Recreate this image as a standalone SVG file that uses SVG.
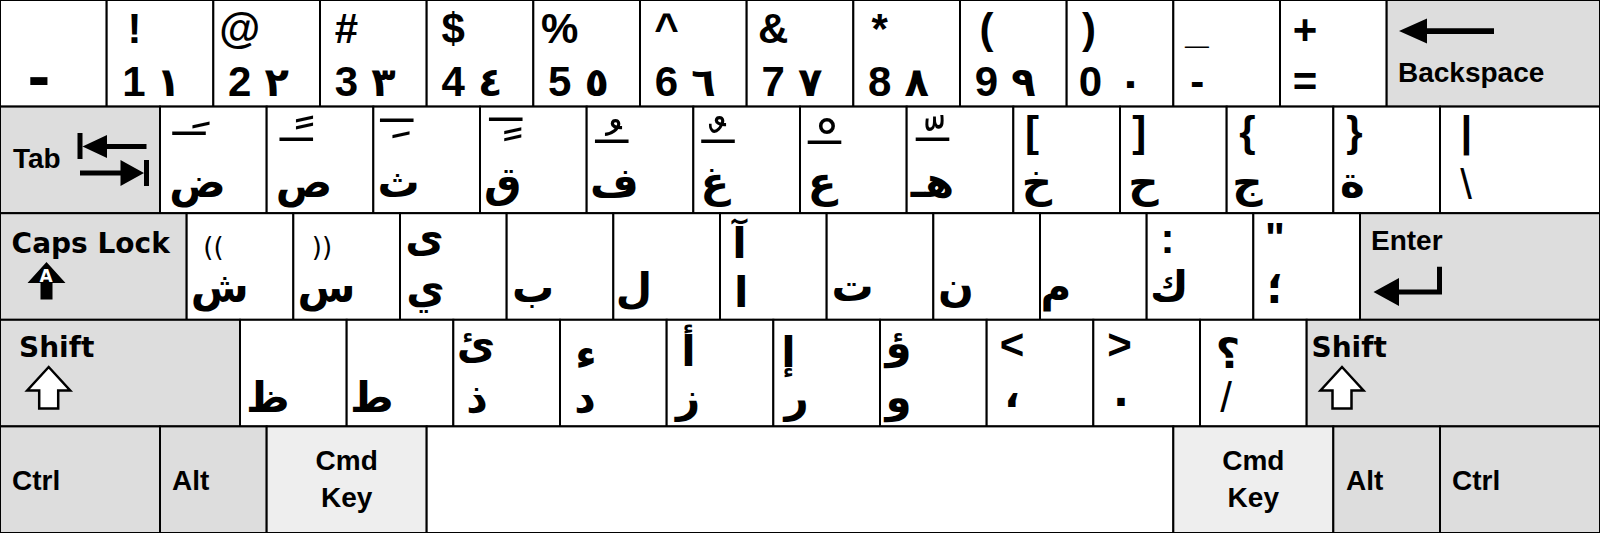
<svg xmlns="http://www.w3.org/2000/svg" width="1600" height="533" viewBox="0 0 1600 533">
<style>
.k{stroke:#000;stroke-width:2}
.w{fill:#fff}.g{fill:#ddd}.c{fill:#eee}
.l{font-family:"Liberation Sans",Arial,sans-serif;font-weight:bold;font-size:42px;text-anchor:middle;fill:#000}
.t{font-family:"Liberation Sans",Arial,sans-serif;font-weight:normal;font-size:42px;text-anchor:middle;fill:#000}
.m{font-family:"Liberation Sans",Arial,sans-serif;font-weight:bold;font-size:28px;fill:#000}
.ct{text-anchor:middle}
.d{font-family:"DejaVu Sans",sans-serif;font-weight:bold;font-size:28px;fill:#000}
.a{font-family:"DejaVu Sans",sans-serif;font-weight:bold;font-size:42px;text-anchor:middle;fill:#000}
.n{font-family:"DejaVu Sans",sans-serif;font-weight:bold;font-size:40px;text-anchor:middle;fill:#000}
.tw{font-family:"DejaVu Sans",sans-serif;font-weight:normal;font-size:40px;text-anchor:middle;fill:#000}
.mk{font-family:"DejaVu Sans",sans-serif;font-weight:normal;font-size:60px;text-anchor:end;fill:#000}
.p{font-family:"DejaVu Sans",sans-serif;font-weight:normal;font-size:26px;text-anchor:middle;fill:#000}
.ico{fill:#000}
.sh{fill:#fff;stroke:#000;stroke-width:2.5;stroke-linejoin:miter}
</style>
<defs>
<path id="shiftArrow" d="M0,0 L-21.5,23.5 L-9.5,23.5 L-9.5,41.5 L9.5,41.5 L9.5,23.5 L21.5,23.5 Z"/>
</defs>
<rect x="0" y="0" width="1600" height="533" fill="#fff"/>

<!-- Row 1 -->
<g id="key-dash"><rect class="k w" x="0" y="0" width="106.67" height="106.6"/><text x="38.8" y="97" style="font-family:'DejaVu Sans',sans-serif;font-weight:bold;font-size:56px;text-anchor:middle;fill:#000">-</text></g>
<g id="key-1"><rect class="k w" x="106.67" y="0" width="106.67" height="106.6"/><text class="l" x="134.5" y="43">!</text><text class="l" x="134" y="96">1</text><text class="n" x="168.5" y="96">١</text></g>
<g id="key-2"><rect class="k w" x="213.33" y="0" width="106.67" height="106.6"/><text class="l" x="239.8" y="43">@</text><text class="l" x="239.8" y="96">2</text><text class="n" x="276.8" y="96">٢</text></g>
<g id="key-3"><rect class="k w" x="320" y="0" width="106.67" height="106.6"/><text class="l" x="346.5" y="43">#</text><text class="l" x="346.5" y="96">3</text><text class="n" x="383.5" y="96">٣</text></g>
<g id="key-4"><rect class="k w" x="426.67" y="0" width="106.67" height="106.6"/><text class="l" x="453.2" y="43">$</text><text class="l" x="453.2" y="96">4</text><text class="n" x="490.2" y="96">٤</text></g>
<g id="key-5"><rect class="k w" x="533.33" y="0" width="106.67" height="106.6"/><text class="l" x="559.8" y="43">%</text><text class="l" x="559.8" y="96">5</text><text class="n" x="596.8" y="96">٥</text></g>
<g id="key-6"><rect class="k w" x="640" y="0" width="106.67" height="106.6"/><text class="l" x="666.5" y="43">^</text><text class="l" x="666.5" y="96">6</text><text class="n" x="703.5" y="96">٦</text></g>
<g id="key-7"><rect class="k w" x="746.67" y="0" width="106.67" height="106.6"/><text class="l" x="773.2" y="43">&amp;</text><text class="l" x="773.2" y="96">7</text><text class="n" x="810.2" y="96">٧</text></g>
<g id="key-8"><rect class="k w" x="853.33" y="0" width="106.67" height="106.6"/><text class="l" x="879.8" y="43">*</text><text class="l" x="879.8" y="96">8</text><text class="n" x="916.8" y="96">٨</text></g>
<g id="key-9"><rect class="k w" x="960" y="0" width="106.67" height="106.6"/><text class="l" x="986.5" y="43">(</text><text class="l" x="986.5" y="96">9</text><text class="n" x="1023.5" y="96">٩</text></g>
<g id="key-0"><rect class="k w" x="1066.67" y="0" width="106.67" height="106.6"/><text class="l" x="1089" y="42.5">)</text><text class="l" x="1090.5" y="96">0</text><text class="n" x="1130.5" y="96">٠</text></g>
<g id="key-minus"><rect class="k w" x="1173.33" y="0" width="106.67" height="106.6"/><text class="l" x="1197" y="43">_</text><text class="l" x="1197.3" y="96">-</text></g>
<g id="key-equal"><rect class="k w" x="1280" y="0" width="106.67" height="106.6"/><text class="l" x="1305" y="44">+</text><text class="l" x="1305" y="96">=</text></g>
<g id="key-backspace"><rect class="k g" x="1386.67" y="0" width="213.33" height="106.6"/><path class="ico" d="M1399,31 L1427,18.5 L1427,28.3 L1494,28.3 L1494,34 L1427,34 L1427,43.5 Z"/><text class="m" x="1398" y="82">Backspace</text></g>

<!-- Row 2 -->
<g id="key-tab"><rect class="k g" x="0" y="106.6" width="160" height="106.6"/><text class="m" x="13" y="168">Tab</text>
<path class="ico" d="M77.5,133 h5 v26 h-5 Z M82.5,146.5 L107,135 L107,144 L146.5,144 L146.5,149 L107,149 L107,158 Z"/>
<path class="ico" d="M80,170.5 L120.5,170.5 L120.5,160 L144,173 L120.5,186 L120.5,175.5 L80,175.5 Z M144,160 h5 v26 h-5 Z"/></g>
<g id="key-dad"><rect class="k w" x="160" y="106.6" width="106.67" height="106.6"/><text class="tw" x="189" y="134.6" textLength="31.5" lengthAdjust="spacingAndGlyphs">ـ</text><text class="mk" x="205" y="164">&#160;َ</text><text class="a" x="197.5" y="197">ض</text></g>
<g id="key-sad"><rect class="k w" x="266.67" y="106.6" width="106.67" height="106.6"/><text class="tw" x="296.2" y="141.3" textLength="31.5" lengthAdjust="spacingAndGlyphs">ـ</text><text class="mk" x="308.7" y="165.3">&#160;ً</text><text class="a" x="304" y="197">ص</text></g>
<g id="key-theh"><rect class="k w" x="373.33" y="106.6" width="106.67" height="106.6"/><text class="tw" x="396.8" y="122.3" textLength="31.5" lengthAdjust="spacingAndGlyphs">ـ</text><text class="mk" x="405" y="129.8">&#160;ِ</text><text class="a" x="398.5" y="197">ث</text></g>
<g id="key-qaf"><rect class="k w" x="480" y="106.6" width="106.67" height="106.6"/><text class="tw" x="505.7" y="120.6" textLength="31.5" lengthAdjust="spacingAndGlyphs">ـ</text><text class="mk" x="516.8" y="126.8">&#160;ٍ</text><text class="a" x="502.7" y="197">ق</text></g>
<g id="key-feh"><rect class="k w" x="586.67" y="106.6" width="106.67" height="106.6"/><text class="tw" x="611.8" y="142.9" textLength="31.5" lengthAdjust="spacingAndGlyphs">ـ</text><text class="mk" x="617.5" y="171">&#160;ُ</text><text class="a" x="614.4" y="197">ف</text></g>
<g id="key-ghain"><rect class="k w" x="693.33" y="106.6" width="106.67" height="106.6"/><text class="tw" x="718" y="142.9" textLength="31.5" lengthAdjust="spacingAndGlyphs">ـ</text><text class="mk" x="721.7" y="168.4">&#160;ٌ</text><text class="a" x="714.8" y="197">غ</text></g>
<g id="key-ain"><rect class="k w" x="800" y="106.6" width="106.67" height="106.6"/><text class="tw" x="824.5" y="143.9" textLength="31.5" lengthAdjust="spacingAndGlyphs">ـ</text><text class="mk" x="831.2" y="171">&#160;ْ</text><text class="a" x="822" y="197">ع</text></g>
<g id="key-heh"><rect class="k w" x="906.67" y="106.6" width="106.67" height="106.6"/><text class="tw" x="932.5" y="141.3" textLength="31.5" lengthAdjust="spacingAndGlyphs">ـ</text><text class="mk" x="938.5" y="166.5">&#160;ّ</text><text class="a" x="932.5" y="197">هـ</text></g>
<g id="key-khah"><rect class="k w" x="1013.33" y="106.6" width="106.67" height="106.6"/><text class="l" x="1032" y="146">[</text><text class="a" x="1037" y="197">خ</text></g>
<g id="key-hah"><rect class="k w" x="1120" y="106.6" width="106.67" height="106.6"/><text class="l" x="1139.2" y="146">]</text><text class="a" x="1143.5" y="197">ح</text></g>
<g id="key-jeem"><rect class="k w" x="1226.67" y="106.6" width="106.67" height="106.6"/><text class="l" x="1247.5" y="146">{</text><text class="a" x="1247.5" y="197">ج</text></g>
<g id="key-tehmarbuta"><rect class="k w" x="1333.33" y="106.6" width="106.67" height="106.6"/><text class="l" x="1354.4" y="146">}</text><text class="a" x="1352.5" y="197">ة</text></g>
<g id="key-backslash"><rect class="k w" x="1440" y="106.6" width="160" height="106.6"/><text class="l" x="1466.5" y="146">|</text><text class="t" x="1466" y="199">\</text></g>

<!-- Row 3 -->
<g id="key-caps"><rect class="k g" x="0" y="213.2" width="186.67" height="106.6"/><text class="d" x="11.6" y="253">Caps Lock</text>
<path class="ico" d="M46.5,262 L27.5,283 L40.5,283 L40.5,299.5 L52.5,299.5 L52.5,283 L65.5,283 Z"/>
<text x="46" y="281.5" style="font-family:'DejaVu Sans',sans-serif;font-weight:bold;font-size:17px;text-anchor:middle;fill:#fff">A</text></g>
<g id="key-sheen"><rect class="k w" x="186.67" y="213.2" width="106.67" height="106.6"/><text class="p" x="213.5" y="256">((</text><text class="a" x="219.7" y="302">ش</text></g>
<g id="key-seen"><rect class="k w" x="293.33" y="213.2" width="106.67" height="106.6"/><text class="p" x="322" y="256">))</text><text class="a" x="326.5" y="302">س</text></g>
<g id="key-yeh"><rect class="k w" x="400" y="213.2" width="106.67" height="106.6"/><text class="a" x="424.4" y="251">ى</text><text class="a" x="425.4" y="303">ي</text></g>
<g id="key-beh"><rect class="k w" x="506.67" y="213.2" width="106.67" height="106.6"/><text class="a" x="533" y="302">ب</text></g>
<g id="key-lam"><rect class="k w" x="613.33" y="213.2" width="106.67" height="106.6"/><text class="a" x="634" y="303">ل</text></g>
<g id="key-alef"><rect class="k w" x="720" y="213.2" width="106.67" height="106.6"/><text class="a" x="739.5" y="258">آ</text><text class="a" x="741.3" y="307">ا</text></g>
<g id="key-teh"><rect class="k w" x="826.67" y="213.2" width="106.67" height="106.6"/><text class="a" x="852.5" y="301">ت</text></g>
<g id="key-noon"><rect class="k w" x="933.33" y="213.2" width="106.67" height="106.6"/><text class="a" x="956" y="301">ن</text></g>
<g id="key-meem"><rect class="k w" x="1040" y="213.2" width="106.67" height="106.6"/><text class="a" x="1056" y="301">م</text></g>
<g id="key-kaf"><rect class="k w" x="1146.67" y="213.2" width="106.67" height="106.6"/><text class="l" x="1167.5" y="253">:</text><text class="a" x="1169.3" y="301">ك</text></g>
<g id="key-semicolon"><rect class="k w" x="1253.33" y="213.2" width="106.67" height="106.6"/><text class="l" x="1275" y="252">"</text><text class="a" x="1275" y="303">؛</text></g>
<g id="key-enter"><rect class="k g" x="1360" y="213.2" width="240" height="106.6"/><text class="m" x="1371" y="250">Enter</text>
<path class="ico" d="M1373.5,292 L1399,278 L1399,289.5 L1437,289.5 L1437,266.7 L1442,266.7 L1442,294.5 L1399,294.5 L1399,306 Z"/></g>

<!-- Row 4 -->
<g id="key-lshift"><rect class="k g" x="0" y="319.8" width="240" height="106.6"/><text class="d" x="19" y="357">Shift</text><use href="#shiftArrow" class="sh" x="48.7" y="367"/></g>
<g id="key-zah"><rect class="k w" x="240" y="319.8" width="106.67" height="106.6"/><text class="a" x="267.7" y="412">ظ</text></g>
<g id="key-tah"><rect class="k w" x="346.67" y="319.8" width="106.67" height="106.6"/><text class="a" x="371.8" y="412">ط</text></g>
<g id="key-thal"><rect class="k w" x="453.33" y="319.8" width="106.67" height="106.6"/><text class="a" x="476" y="358">ئ</text><text class="a" x="477" y="412">ذ</text></g>
<g id="key-dal"><rect class="k w" x="560" y="319.8" width="106.67" height="106.6"/><text class="a" x="586" y="369">ء</text><text class="a" x="585" y="412">د</text></g>
<g id="key-zain"><rect class="k w" x="666.67" y="319.8" width="106.67" height="106.6"/><text class="a" x="688.5" y="366">أ</text><text class="a" x="688" y="412">ز</text></g>
<g id="key-reh"><rect class="k w" x="773.33" y="319.8" width="106.67" height="106.6"/><text class="a" x="788.4" y="367">إ</text><text class="a" x="796.7" y="412">ر</text></g>
<g id="key-waw"><rect class="k w" x="880" y="319.8" width="106.67" height="106.6"/><text class="a" x="898.5" y="358">ؤ</text><text class="a" x="898.5" y="412">و</text></g>
<g id="key-comma"><rect class="k w" x="986.67" y="319.8" width="106.67" height="106.6"/><text class="l" x="1012" y="359">&lt;</text><text class="a" x="1012" y="407">،</text></g>
<g id="key-period"><rect class="k w" x="1093.33" y="319.8" width="106.67" height="106.6"/><text class="l" x="1119.4" y="359">&gt;</text><text class="a" x="1121" y="406">.</text></g>
<g id="key-slash"><rect class="k w" x="1200" y="319.8" width="106.67" height="106.6"/><text class="a" x="1228" y="368">؟</text><text class="t" x="1226" y="412">/</text></g>
<g id="key-rshift"><rect class="k g" x="1306.67" y="319.8" width="293.33" height="106.6"/><text class="d" x="1311.5" y="357">Shift</text><use href="#shiftArrow" class="sh" x="1342" y="367"/></g>

<!-- Row 5 -->
<g id="key-lctrl"><rect class="k g" x="0" y="426.4" width="160" height="106.6"/><text class="m" x="12" y="489.5">Ctrl</text></g>
<g id="key-lalt"><rect class="k g" x="160" y="426.4" width="106.67" height="106.6"/><text class="m" x="172" y="489.5">Alt</text></g>
<g id="key-lcmd"><rect class="k c" x="266.67" y="426.4" width="160" height="106.6"/><text class="m ct" x="346.7" y="470">Cmd</text><text class="m ct" x="346.7" y="507">Key</text></g>
<g id="key-space"><rect class="k w" x="426.67" y="426.4" width="746.67" height="106.6"/></g>
<g id="key-rcmd"><rect class="k c" x="1173.33" y="426.4" width="160" height="106.6"/><text class="m ct" x="1253.3" y="470">Cmd</text><text class="m ct" x="1253.3" y="507">Key</text></g>
<g id="key-ralt"><rect class="k g" x="1333.33" y="426.4" width="106.67" height="106.6"/><text class="m" x="1346" y="489.5">Alt</text></g>
<g id="key-rctrl"><rect class="k g" x="1440" y="426.4" width="160" height="106.6"/><text class="m" x="1452" y="489.5">Ctrl</text></g>
<g id="connectors"/>
</svg>
